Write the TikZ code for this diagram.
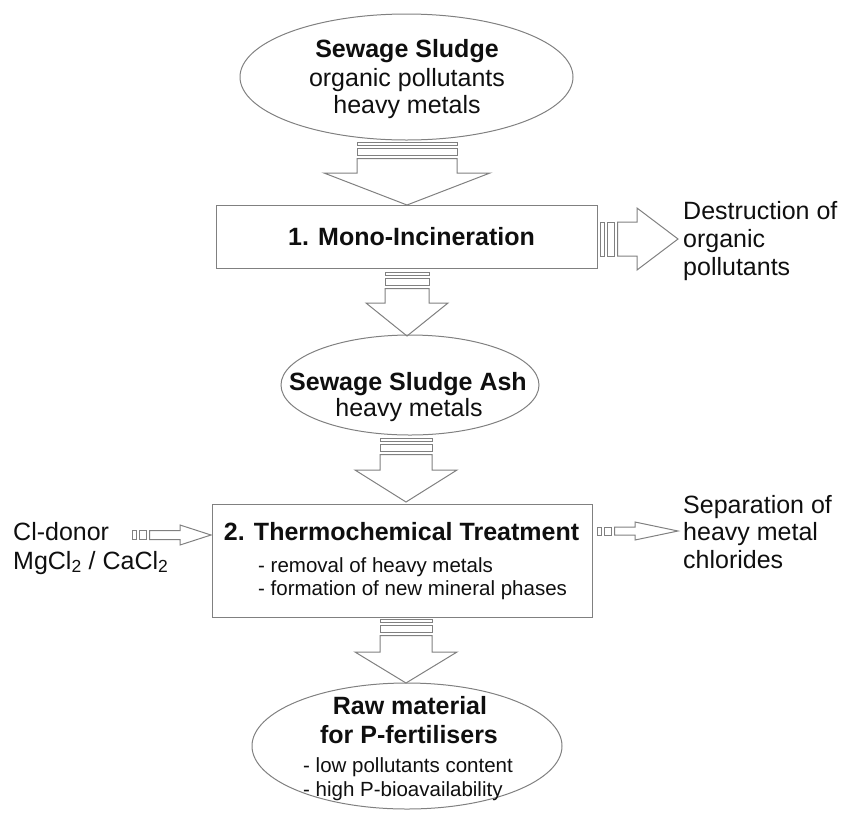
\documentclass[tikz,border=0pt]{standalone}
\usepackage{fontspec}
\setmainfont{Liberation Sans}
\usetikzlibrary{shapes.geometric}
\definecolor{edge}{RGB}{128,128,128}
\definecolor{ink}{RGB}{15,15,15}
\tikzset{
  outline/.style={draw=edge, line width=1pt, line join=miter},
  bubble/.style={outline, ellipse, inner sep=0pt},
  stage/.style={outline, rectangle, inner sep=0pt},
  txt/.style={inner sep=0pt, text=ink, font=\fontsize{25}{28}\selectfont},
  txtb/.style={inner sep=0pt, text=ink, font=\fontsize{25}{28}\selectfont\bfseries},
  txts/.style={inner sep=0pt, text=ink, font=\fontsize{20.5}{23}\selectfont},
}
% striped block arrow pointing down: centre x, top y, shaft half width,
% y where the head starts, head half width, tip y
\newcommand\stripedown[6]{%
  \draw[outline] ({#1-#3},#2) rectangle ({#1+#3},{#2+3});
  \draw[outline] ({#1-#3},{#2+6.5}) rectangle ({#1+#3},{#2+13});
  \draw[outline] ({#1-#3},{#2+16.5}) -- ({#1-#3},#4) -- ({#1-#5},#4) -- (#1,#6)
    -- ({#1+#5},#4) -- ({#1+#3},#4) -- ({#1+#3},{#2+16.5}) -- cycle;
}
% striped block arrow pointing right: left x, centre y, shaft half height,
% x where the head starts, head half height, tip x
\newcommand\striperight[6]{%
  \draw[outline] (#1,{#2-#3}) rectangle ({#1+4},{#2+#3});
  \draw[outline] ({#1+7},{#2-#3}) rectangle ({#1+14.5},{#2+#3});
  \draw[outline] ({#1+17.5},{#2-#3}) -- (#4,{#2-#3}) -- (#4,{#2-#5}) -- (#6,#2)
    -- (#4,{#2+#5}) -- (#4,{#2+#3}) -- ({#1+17.5},{#2+#3}) -- cycle;
}
\begin{document}
\begin{tikzpicture}[x=1pt,y=-1pt]
\useasboundingbox (0,0) rectangle (846,812);

% process stages
\node[bubble, minimum width=333pt, minimum height=126pt] (sludge) at (406.5,77) {};
\node[stage, minimum width=381pt, minimum height=63pt] (incin) at (406.5,236.5) {};
\node[bubble, minimum width=258pt, minimum height=100pt] (ash) at (410,385) {};
\node[stage, minimum width=380pt, minimum height=113pt] (thermo) at (402,560.5) {};
\node[bubble, minimum width=310pt, minimum height=126pt] (raw) at (407,746) {};

% texts of the stages
\node[txtb, anchor=base] (sludgeA) at (407,57) {Sewage Sludge};
\node[txt, anchor=base] (sludgeB) at (407,86) {organic pollutants};
\node[txt, anchor=base] (sludgeC) at (407,113) {heavy metals};

\node[txtb, anchor=base] (incinA) at (411.5,245) {1. Mono-Incineration};

\node[txtb, anchor=base] (ashA) at (408,390) {Sewage Sludge Ash};
\node[txt, anchor=base] (ashB) at (409,416) {heavy metals};

\node[txtb, anchor=base] (thermoA) at (401.5,540) {2. Thermochemical Treatment};
\node[txts, anchor=base west] (thermoB) at (258,572) {- removal of heavy metals};
\node[txts, anchor=base west] (thermoC) at (258,595) {- formation of new mineral phases};

\node[txtb, anchor=base] (rawA) at (410,714) {Raw material};
\node[txtb, anchor=base] (rawB) at (409,743) {for P-fertilisers};
\node[txts, anchor=base west] (rawC) at (303,772) {- low pollutants content};
\node[txts, anchor=base west] (rawD) at (303,796) {- high P-bioavailability};

% side inputs and outputs
\node[txt, anchor=base west] (destA) at (683,219) {Destruction of};
\node[txt, anchor=base west] (destB) at (683,247) {organic};
\node[txt, anchor=base west] (destC) at (683,275) {pollutants};

\node[txt, anchor=base west] (sepA) at (683,513) {Separation of};
\node[txt, anchor=base west] (sepB) at (683,540) {heavy metal};
\node[txt, anchor=base west] (sepC) at (683,568) {chlorides};

\node[txt, anchor=base west] (donorA) at (13,540) {Cl-donor};
\node[txt, anchor=base west] (donorB) at (13,569) {MgCl\textsubscript{2} / CaCl\textsubscript{2}};

% block arrows between the stages
\stripedown{407}{142}{50}{173}{83}{205}
\stripedown{407}{272}{22}{303}{41}{336}
\stripedown{406}{438}{26}{470}{51}{502}
\stripedown{406}{619}{26}{652}{51}{683}

% block arrows to and from the side
\striperight{600}{239}{17}{637}{31}{678}
\striperight{132}{535}{4.5}{180}{10}{211}
\striperight{597}{531}{4}{635}{9}{678}
\end{tikzpicture}
\end{document}
